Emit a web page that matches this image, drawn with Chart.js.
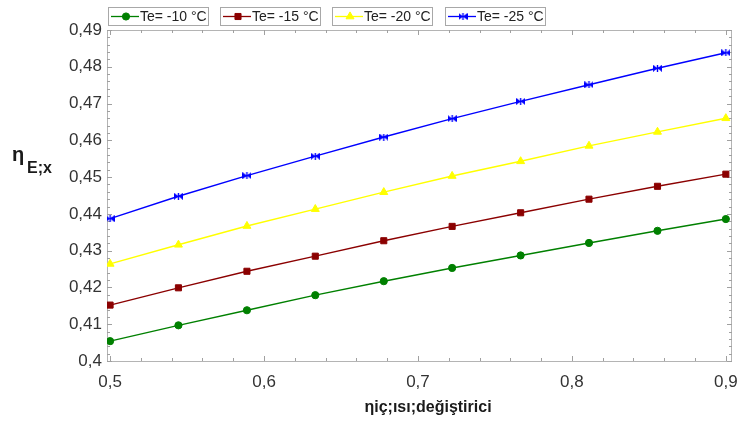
<!DOCTYPE html>
<html>
<head>
<meta charset="utf-8">
<script src="https://cdn.jsdelivr.net/npm/chart.js@4/dist/chart.umd.min.js"></script>
<style>
html,body{margin:0;padding:0;background:#fff;}
#wrap{width:740px;height:426px;position:relative;}
</style>
</head>
<body>
<div id="wrap"><canvas id="c" width="740" height="426"></canvas></div>
<script>
// ---- data ----
const xValues = [0.5, 0.5444, 0.5889, 0.6333, 0.6778, 0.7222, 0.7667, 0.8111, 0.8556, 0.9];
const seriesLabels = ['Te= -10 °C', 'Te= -15 °C', 'Te= -20 °C', 'Te= -25 °C'];
const te10 = [0.4054, 0.4097, 0.4138, 0.4179, 0.4217, 0.4253, 0.4287, 0.4321, 0.4354, 0.4386];
const te15 = [0.4152, 0.4199, 0.4244, 0.4285, 0.4327, 0.4366, 0.4403, 0.4440, 0.4475, 0.4508];
const te20 = [0.4264, 0.4316, 0.4367, 0.4413, 0.4459, 0.4503, 0.4543, 0.4585, 0.4623, 0.4660];
const te25 = [0.4387, 0.4448, 0.4504, 0.4557, 0.4609, 0.4659, 0.4706, 0.4751, 0.4796, 0.4838];
const xTicks = [0.5, 0.6, 0.7, 0.8, 0.9];
const xTickLabels = ['0,5', '0,6', '0,7', '0,8', '0,9'];
const yTicks = [0.40, 0.41, 0.42, 0.43, 0.44, 0.45, 0.46, 0.47, 0.48, 0.49];
const yTickLabels = ['0,4', '0,41', '0,42', '0,43', '0,44', '0,45', '0,46', '0,47', '0,48', '0,49'];
const yTitleMain = 'η';
const yTitleSub = 'E;x';
const xTitle = 'ηiç;ısı;değiştirici';

// ---- styles ----
const FONT = '"Liberation Sans", Arial, sans-serif';
const colors = ['#008000', '#8b0000', '#ffff00', '#0000ff'];

function makeBowtie(color) {
  const c = document.createElement('canvas');
  c.width = 9; c.height = 7;
  const g = c.getContext('2d');
  g.fillStyle = color;
  g.beginPath(); g.moveTo(0, 0); g.lineTo(4.5, 3.5); g.lineTo(0, 7); g.closePath(); g.fill();
  g.beginPath(); g.moveTo(9, 0); g.lineTo(4.5, 3.5); g.lineTo(9, 7); g.closePath(); g.fill();
  g.fillRect(3.8, 0, 1.4, 7);
  return c;
}
const markerStyles = [
  { pointStyle: 'circle', radius: 3.6 },
  { pointStyle: 'rect', radius: 4.3 },
  { pointStyle: 'triangle', radius: 4.6 },
  { pointStyle: makeBowtie('#0000ff'), radius: 4.5 }
];
const seriesValues = [te10, te15, te20, te25];

const datasets = seriesValues.map((vals, k) => ({
  label: seriesLabels[k],
  data: xValues.map((x, i) => ({ x: x, y: vals[i] })),
  borderColor: colors[k],
  backgroundColor: colors[k],
  borderWidth: 1.4,
  pointStyle: markerStyles[k].pointStyle,
  pointRadius: markerStyles[k].radius,
  pointBorderWidth: 1,
  pointBackgroundColor: colors[k],
  pointBorderColor: colors[k],
  tension: 0,
  fill: false
}));

function zeroPad(s) { s.paddingLeft = 0; s.paddingRight = 0; s.paddingTop = 0; s.paddingBottom = 0; }

// frame with inward major/minor ticks on all four sides
const framePlugin = {
  id: 'frame',
  beforeDatasetsDraw(chart) {
    const { ctx, chartArea: a, scales: { x, y } } = chart;
    ctx.save();
    ctx.strokeStyle = '#b4b4b4';
    ctx.lineWidth = 1;
    ctx.strokeRect(Math.round(a.left) + 0.5, Math.round(a.top) + 0.5,
                   Math.round(a.right - a.left) - 1, Math.round(a.bottom - a.top));
    ctx.strokeStyle = '#a0a0a0';
    ctx.beginPath();
    for (let i = 0; i <= 20; i++) {
      const v = 0.5 + i * 0.02;
      const px = Math.round(x.getPixelForValue(v)) + 0.5;
      if (px < a.left || px > a.right) continue;
      const len = (i % 5 === 0) ? 5 : 3;
      ctx.moveTo(px, a.bottom); ctx.lineTo(px, a.bottom - len);
      ctx.moveTo(px, a.top); ctx.lineTo(px, a.top + len);
    }
    for (let i = 0; i <= 45; i++) {
      const v = 0.4 + i * 0.002;
      const py = Math.round(y.getPixelForValue(v)) + 0.5;
      const len = (i % 5 === 0) ? 5 : 3;
      ctx.moveTo(a.left, py); ctx.lineTo(a.left + len, py);
      ctx.moveTo(a.right, py); ctx.lineTo(a.right - len, py);
    }
    ctx.stroke();
    ctx.restore();
  },
  afterDraw(chart) {
    const { ctx } = chart;
    ctx.save();
    ctx.fillStyle = '#1a1a1a';
    ctx.textBaseline = 'alphabetic';
    ctx.textAlign = 'left';
    ctx.font = 'bold 20px ' + FONT;
    ctx.fillText(yTitleMain, 12, 161);
    ctx.font = 'bold 16px ' + FONT;
    ctx.fillText(yTitleSub, 27, 172.5);
    ctx.textAlign = 'center';
    ctx.font = 'bold 16px ' + FONT;
    ctx.fillText(xTitle, 428, 411.5);
    ctx.restore();
  }
};

// boxed legend entries
const legendPlugin = {
  id: 'boxLegend',
  afterDraw(chart) {
    const { ctx } = chart;
    const x0 = 108, step = 112.2, top = 7, w = 100, h = 18;
    chart.data.datasets.forEach((ds, k) => {
      const bx = Math.round(x0 + k * step);
      ctx.save();
      ctx.fillStyle = '#ffffff';
      ctx.fillRect(bx, top, w, h);
      ctx.strokeStyle = '#a8a8a8';
      ctx.lineWidth = 1;
      ctx.strokeRect(bx + 0.5, top + 0.5, w, h);
      const cy = top + 9.5;
      ctx.strokeStyle = ds.borderColor;
      ctx.lineWidth = 1.3;
      ctx.beginPath(); ctx.moveTo(bx + 3, cy); ctx.lineTo(bx + 31, cy); ctx.stroke();
      ctx.fillStyle = ds.borderColor;
      ctx.strokeStyle = ds.borderColor;
      ctx.lineWidth = 1;
      Chart.helpers.drawPoint(ctx, { pointStyle: ds.pointStyle, radius: ds.pointRadius, rotation: 0, borderWidth: 1 }, bx + 18, cy);
      ctx.fillStyle = '#222222';
      ctx.font = '14px ' + FONT;
      ctx.textBaseline = 'middle';
      ctx.textAlign = 'left';
      ctx.fillText(ds.label, bx + 32, cy + 0.5);
      ctx.restore();
    });
  }
};

new Chart(document.getElementById('c'), {
  type: 'line',
  data: { datasets: datasets },
  options: {
    responsive: false,
    animation: false,
    devicePixelRatio: 1,
    layout: { padding: { top: 30, right: 8, left: 0, bottom: 0 } },
    plugins: { legend: { display: false }, tooltip: { enabled: false } },
    scales: {
      x: {
        type: 'linear',
        min: 0.498,
        max: 0.904,
        grid: { display: false, drawTicks: false },
        border: { display: false },
        afterBuildTicks: s => { s.ticks = xTicks.map(v => ({ value: v })); },
        afterFit: s => { s.height = 65; zeroPad(s); },
        ticks: {
          callback: (v, i) => xTickLabels[i],
          font: { family: FONT, size: 17 },
          color: '#333333',
          padding: 11,
          maxRotation: 0,
          autoSkip: false
        }
      },
      y: {
        type: 'linear',
        min: 0.4,
        max: 0.49,
        grid: { display: false, drawTicks: false },
        border: { display: false },
        afterBuildTicks: s => { s.ticks = yTicks.map(v => ({ value: v })); },
        afterFit: s => { s.width = 107; zeroPad(s); },
        ticks: {
          callback: (v, i) => yTickLabels[i],
          font: { family: FONT, size: 17 },
          color: '#333333',
          padding: 5,
          autoSkip: false
        }
      }
    }
  },
  plugins: [framePlugin, legendPlugin]
});
</script>
</body>
</html>
